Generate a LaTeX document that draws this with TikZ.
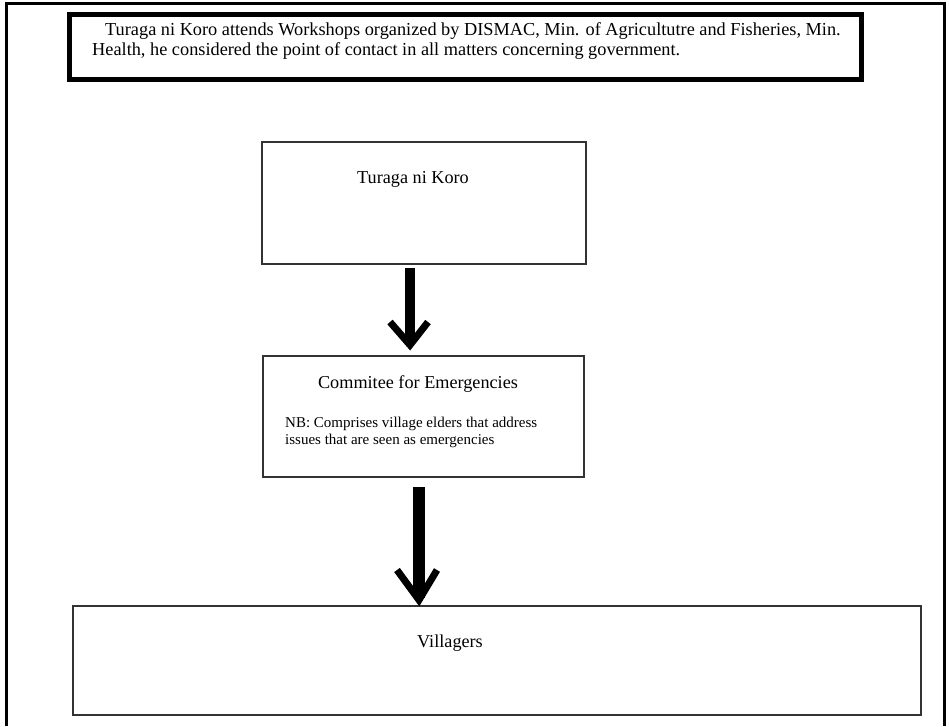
\documentclass[tikz,border=0pt]{standalone}
\usepackage{fontspec}
\setmainfont{Liberation Serif}
\begin{document}
\begin{tikzpicture}[x=1pt,y=-1pt,
  box/.style={draw=black!80,line width=1.4pt,fill=white},
  shaftA/.style={line width=10pt},
  shaftB/.style={line width=12pt},
  barb/.style={line width=7pt,line join=miter},
  title/.style={font=\fontsize{18.2}{20}\selectfont,inner sep=0pt,anchor=base},
  note/.style={font=\fontsize{15}{17.5}\selectfont,inner sep=0pt,align=left,anchor=north west}]
\useasboundingbox (0,0) rectangle (949,726);
\fill[white] (0,0) rectangle (949,726);
% outer frame (open at the bottom)
\draw[line width=3pt] (6,726) -- (6,3) -- (944,3) -- (944,726);
% header box
\draw[line width=5pt] (69,14) rectangle (861,79);
\node[note,font=\fontsize{18.3}{20.5}\selectfont,anchor=north west] (head) at (92,22)
  {\hspace*{13pt}Turaga ni Koro attends Workshops organized by DISMAC, Min. of Agricultutre and Fisheries, Min.\\
   Health, he considered the point of contact in all matters concerning government.};
% boxes
\draw[box] (262,142) rectangle (586,264);
\coordinate (tk) at (424,264);
\node[title] (t1) at (413,183) {Turaga ni Koro};
\draw[box] (263,356) rectangle (584,477);
\coordinate (ce) at (424,477);
\node[title] (t2) at (418,388) {Commitee for Emergencies};
\node[note] (nb) at (285,416.5) {NB: Comprises village elders that address\\issues that are seen as emergencies};
\draw[box] (73,606) rectangle (921,715);
\coordinate (vi) at (497,606);
\node[title] (t3) at (450,647) {Villagers};
% arrows
\coordinate (tip1) at (410,343);
\draw[shaftA] (tip1 |- tk) ++(0,4) -- (tip1);
\draw[barb] ([shift={(-20,-21)}]tip1) -- ([yshift=-2]tip1) -- ([shift={(18,-21)}]tip1);
\coordinate (tip2) at (419,598);
\draw[shaftB] (tip2 |- ce) ++(0,10) -- (tip2);
\draw[barb] ([shift={(-22,-28)}]tip2) -- ([yshift=-2]tip2) -- ([shift={(18,-28)}]tip2);
\end{tikzpicture}
\end{document}
